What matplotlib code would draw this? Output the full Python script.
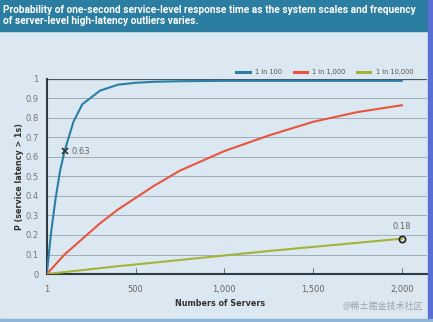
import matplotlib.pyplot as plt
from matplotlib.patches import Rectangle

# ================================
# Datos
# ================================
servers = [1, 25, 50, 75, 100, 150, 200, 300, 400, 500, 600, 750,
           1000, 1250, 1500, 1750, 2000]
p_100 = [0.01, 0.22, 0.39, 0.53, 0.63, 0.78, 0.87, 0.94, 0.97, 0.98, 0.985, 0.988,
         0.99, 0.99, 0.99, 0.99, 0.99]
p_1000 = [0.001, 0.025, 0.05, 0.075, 0.10, 0.14, 0.18, 0.26, 0.33, 0.39, 0.45, 0.53,
          0.63, 0.71, 0.78, 0.83, 0.865]
p_10000 = [0.0001, 0.0025, 0.005, 0.0075, 0.01, 0.015, 0.02, 0.03, 0.04, 0.049, 0.058, 0.072,
           0.095, 0.118, 0.139, 0.16, 0.181]

series_labels = ["1 in 100", "1 in 1,000", "1 in 10,000"]
series_colors = ["#2a7fa6", "#e8553f", "#a4b23a"]

x_ticks = [1, 500, 1000, 1500, 2000]
x_ticklabels = ["1", "500", "1,000", "1,500", "2,000"]
y_ticks = [0, 0.1, 0.2, 0.3, 0.4, 0.5, 0.6, 0.7, 0.8, 0.9, 1]
y_ticklabels = ["0", "0.1", "0.2", "0.3", "0.4", "0.5", "0.6", "0.7", "0.8", "0.9", "1"]

title = ("Probability of one-second service-level response time as the system scales and frequency\n"
         "of server-level high-latency outliers varies.")

bg = "#dce8f1"

# ================================
# Figura
# ================================
fig = plt.figure(figsize=(4.33, 3.22), dpi=100, facecolor=bg)

# barra de titulo
fig.patches.append(Rectangle((0, 0.903), 1, 0.097, transform=fig.transFigure,
                             color="#2b7ea1", zorder=0))
# bordes
fig.patches.append(Rectangle((0.988, 0), 0.012, 1, transform=fig.transFigure,
                             color="#5a6fd6", zorder=0))
fig.patches.append(Rectangle((0, 0), 1, 0.01, transform=fig.transFigure,
                             color="#8fb5d8", zorder=0))

fig.text(0.008, 0.952, title, color="white", fontsize=7.3, fontweight="bold",
         family="Roboto", va="center", ha="left", linespacing=1.2)

ax = fig.add_axes([0.1085, 0.149, 0.877, 0.606])
ax.set_facecolor(bg)

for vals, lab, col in zip([p_100, p_1000, p_10000], series_labels, series_colors):
    ax.plot(servers, vals, color=col, lw=1.5, label=lab, zorder=3)

# marcadores
ax.plot(servers[4], p_100[4], marker="x", color="#333333", ms=4, mew=1.2, zorder=4)
ax.text(servers[4] + 40, p_100[4], "0.63", fontsize=6, color="#666666", va="center")
ax.plot(servers[-1], p_10000[-1], marker="o", mfc="none", mec="#222222", ms=4.5,
        mew=1.2, zorder=4)
ax.text(servers[-1], p_10000[-1] + 0.04, "0.18", fontsize=6, color="#666666",
        ha="center", va="bottom")

ax.set_xlim(1, 2140)
ax.set_ylim(0, 1)
ax.set_xticks(x_ticks)
ax.set_xticklabels(x_ticklabels)
ax.set_yticks(y_ticks)
ax.set_yticklabels(y_ticklabels)
ax.tick_params(axis="x", direction="in", length=4, width=0.6, color="#555555",
               labelsize=6, labelcolor="#666666", pad=8)
ax.tick_params(axis="y", length=0, labelsize=6, labelcolor="#777777", pad=6)

ax.grid(axis="y", color="#a2acb4", lw=0.7)
ax.set_axisbelow(True)
for s in ["top", "right"]:
    ax.spines[s].set_visible(False)
ax.spines["left"].set_color("#2e3a44")
ax.spines["bottom"].set_color("#2e3a44")
ax.spines["left"].set_linewidth(1.5)
ax.spines["bottom"].set_linewidth(1.5)
ax.axhline(1, color="#4a5560", lw=0.9, zorder=1)

ax.set_xlabel("Numbers of Servers", fontsize=5.8, fontweight="bold", color="#333333")
ax.xaxis.set_label_coords(0.455, -0.13)
ax.set_ylabel("P (service latency > 1s)", fontsize=5.8, fontweight="bold", color="#333333")
ax.yaxis.set_label_coords(-0.06, 0.5)

ax.legend(loc="lower right", bbox_to_anchor=(0.975, 1.0), ncol=3, frameon=False,
          fontsize=4.8, labelcolor="#555555", handlelength=2.0, columnspacing=1.7,
          borderaxespad=0.2)
for t in ax.get_legend().get_lines():
    t.set_linewidth(2.2)

fig.text(0.977, 0.047, "@稀土掘金技术社区", fontsize=6.5, color="#9aa4ad",
         ha="right", va="center", family=["Noto Sans CJK SC", "DejaVu Sans"])

fig.savefig("out.png", dpi=100, facecolor=bg)
